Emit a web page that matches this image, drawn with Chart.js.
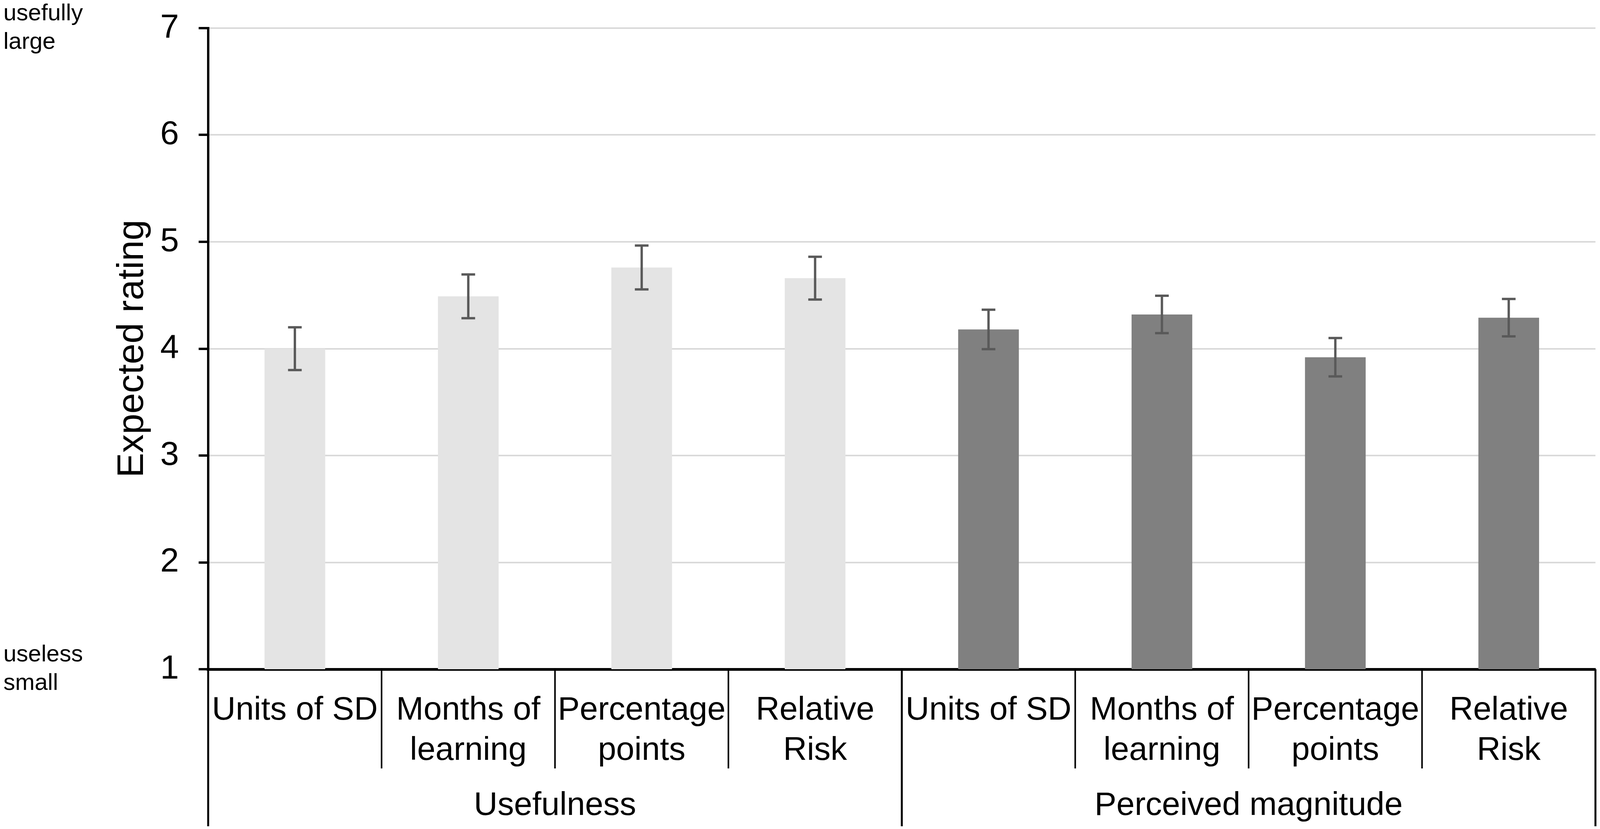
<!DOCTYPE html>
<html>
<head>
<meta charset="utf-8">
<script src="https://cdn.jsdelivr.net/npm/chart.js@4.4.0/dist/chart.umd.min.js"></script>
<style>
  html, body { margin: 0; padding: 0; background: #fff; overflow: hidden; }
  #wrap { position: relative; width: 100vw; height: 100vh; }
</style>
</head>
<body>
<div id="wrap"><canvas id="chart"></canvas></div>
<script>
// data
var categories = ['Units of SD', ['Months of', 'learning'], ['Percentage', 'points'], ['Relative', 'Risk'],
                  'Units of SD', ['Months of', 'learning'], ['Percentage', 'points'], ['Relative', 'Risk']];
var groups = ['Usefulness', 'Perceived magnitude'];
var groupSize = 4;
var ratings = [4.00, 4.49, 4.76, 4.66, 4.18, 4.32, 3.92, 4.29];
var errors = [0.20, 0.205, 0.205, 0.20, 0.185, 0.175, 0.18, 0.175];
var yMin = 1, yMax = 7, yStep = 1;
var endValues = [7, 1];
var endLines = [['usefully', 'large'], ['useless', 'small']];

var groupColors = ['#e4e4e4', '#808080'];
var fontFamily = "'Liberation Sans', Arial, sans-serif";
Chart.defaults.font.family = fontFamily;
Chart.defaults.color = '#000';

// the figure was laid out 4212 wide; follow the real window width
var kx = window.innerWidth / 4212;

var barColors = ratings.map(function (v, i) {
    return groupColors[Math.floor(i / groupSize)];
});

// error bars on top of the bars
var errorBars = {
    id: 'errorBars',
    afterDatasetsDraw: function (chart) {
        var ctx = chart.ctx;
        var y = chart.scales.y;
        var meta = chart.getDatasetMeta(0);
        var cap = 18 * kx;
        ctx.save();
        ctx.strokeStyle = '#595959';
        ctx.lineWidth = 6;
        for (let i = 0; i < ratings.length; i++) {
            let x = meta.data[i].x;
            let top = y.getPixelForValue(ratings[i] + errors[i]);
            let bot = y.getPixelForValue(ratings[i] - errors[i]);
            ctx.beginPath();
            ctx.moveTo(x, top); ctx.lineTo(x, bot);
            ctx.moveTo(x - cap, top); ctx.lineTo(x + cap, top);
            ctx.moveTo(x - cap, bot); ctx.lineTo(x + cap, bot);
            ctx.stroke();
        }
        ctx.restore();
    }
};

// category separators, group labels and the scale-end notes
var decorations = {
    id: 'decorations',
    afterDraw: function (chart) {
        var ctx = chart.ctx;
        var x = chart.scales.x;
        var y = chart.scales.y;
        var n = categories.length;
        var step = (x.right - x.left) / n;
        var base = y.getPixelForValue(yMin);
        ctx.save();
        ctx.strokeStyle = '#000';
        for (let i = 0; i <= n; i++) {
            let px = x.left + i * step;
            let isGroup = i % groupSize === 0;
            ctx.lineWidth = isGroup ? 5 : 4;
            ctx.beginPath();
            ctx.moveTo(px, base);
            ctx.lineTo(px, isGroup ? 2115 : 1967);
            ctx.stroke();
        }
        ctx.fillStyle = '#000';
        ctx.textAlign = 'center';
        ctx.textBaseline = 'middle';
        ctx.font = '84px ' + fontFamily;
        for (let g = 0; g < groups.length; g++) {
            let cx = x.left + (g * groupSize + groupSize / 2) * step;
            ctx.fillText(groups[g], cx, 2063);
        }
        ctx.textAlign = 'left';
        ctx.font = '60px ' + fontFamily;
        for (let k = 0; k < endValues.length; k++) {
            let py = y.getPixelForValue(endValues[k]);
            ctx.fillText(endLines[k][0], 9 * kx, py - 37);
            ctx.fillText(endLines[k][1], 9 * kx, py + 36);
        }
        ctx.restore();
    }
};

new Chart(document.getElementById('chart'), {
    type: 'bar',
    data: {
        labels: categories,
        datasets: [{
            data: ratings,
            backgroundColor: barColors,
            borderWidth: 0,
            barPercentage: 0.35,
            categoryPercentage: 1.0
        }]
    },
    options: {
        responsive: true,
        maintainAspectRatio: false,
        animation: false,
        devicePixelRatio: 1,
        layout: { padding: { top: 72, right: 12 * kx, bottom: 0, left: 0 } },
        plugins: {
            legend: { display: false },
            tooltip: { enabled: false }
        },
        scales: {
            x: {
                grid: { display: false, drawTicks: false },
                border: { display: true, color: '#000', width: 7 },
                ticks: {
                    color: '#000',
                    font: { size: 84, lineHeight: 1.23 },
                    padding: 54,
                    maxRotation: 0,
                    autoSkip: false
                },
                afterFit: function (scale) { scale.height = 409; }
            },
            y: {
                min: yMin,
                max: yMax,
                ticks: {
                    stepSize: yStep,
                    color: '#000',
                    font: { size: 86 },
                    padding: 52 * kx
                },
                grid: {
                    color: '#d9d9d9',
                    lineWidth: 4,
                    tickColor: '#000',
                    tickWidth: 6,
                    tickLength: 25 * kx
                },
                border: { display: true, color: '#000', width: 6 },
                title: {
                    display: true,
                    text: 'Expected rating',
                    color: '#000',
                    font: { size: 95 },
                    padding: { top: 349 * kx - 57, bottom: 0 }
                },
                afterFit: function (scale) {
                    scale.width = 548 * kx;
                    // keep the top of the axis at the layout padding
                    scale.paddingTop = 0;
                    scale.paddingBottom = 0;
                }
            }
        }
    },
    plugins: [errorBars, decorations]
});
</script>
</body>
</html>
